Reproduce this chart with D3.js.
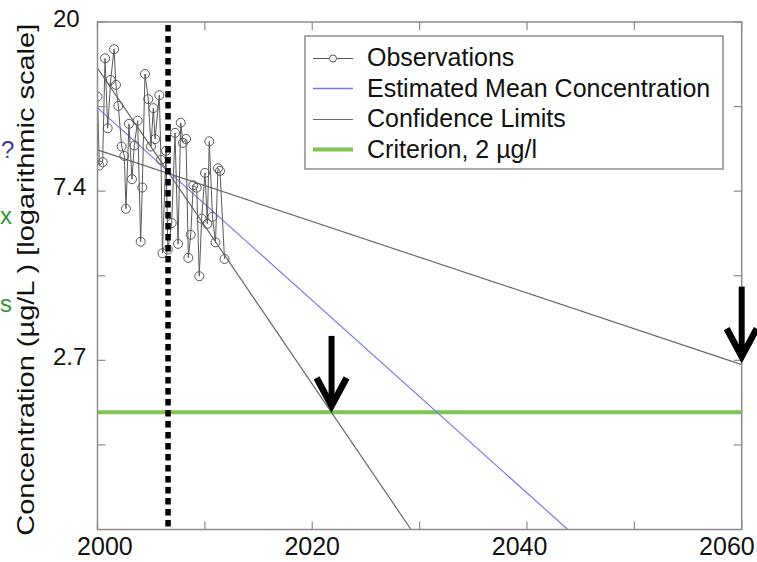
<!DOCTYPE html>
<html>
<head>
<meta charset="utf-8">
<script src="https://cdn.jsdelivr.net/npm/d3@7"></script>
<style>
  body { margin: 0; background: #fff; }
  text { font-family: "Liberation Sans", Arial, sans-serif; }
</style>
</head>
<body>
<div id="chart"></div>
<script>
// Observations (year, concentration in ug/L)
const obsYears = [2000.0, 2000.17, 2000.48, 2000.70, 2000.95, 2001.23, 2001.54, 2001.72, 2001.94,
  2002.25, 2002.50, 2002.65, 2002.93, 2003.21, 2003.43, 2003.74, 2004.02, 2004.17, 2004.42,
  2004.73, 2004.98, 2005.20, 2005.36, 2005.76, 2005.91, 2006.05, 2006.38, 2006.55, 2006.91,
  2007.22, 2007.50, 2007.75, 2007.96, 2008.24, 2008.46, 2008.68, 2008.92, 2009.24, 2009.48,
  2009.70, 2010.01, 2010.23, 2010.41, 2010.71, 2010.99, 2011.22, 2011.41, 2011.83];
const obsValues = [12.92, 8.60, 8.77, 16.21, 10.72, 14.26, 17.10, 13.85, 12.23,
  9.62, 9.10, 6.66, 11.00, 7.93, 9.68, 11.21, 5.48, 7.55, 14.78,
  12.73, 9.62, 12.07, 10.05, 13.03, 8.89, 5.12, 9.38, 5.23, 6.12,
  10.43, 5.41, 11.07, 9.83, 10.06, 4.98, 5.71, 7.65, 7.54, 4.47,
  6.28, 8.23, 6.09, 9.92, 6.35, 5.46, 8.46, 8.33, 4.95];

// trend line + confidence limits (end points)
const meanYears = [2000, 2043.8];
const meanValues = [12.09, 1.0];
const lowerLimitYears = [2000, 2029.2];
const lowerLimitValues = [15.3, 1.0];
const upperLimitYears = [2000, 2060];
const upperLimitValues = [9.43, 2.65];

const criterion = 2;
const splitYear = 2006.57;

// arrows marking where the limits reach the criterion
const arrowYears = [2021.8, 2060];
const arrowValues = [2.04, 2.73];

const xTicks = [2000, 2010, 2020, 2030, 2040, 2050, 2060];
const xTickLabels = [2000, 2020, 2040, 2060];
const yTicks = [0.5, 1, 1.5, 2, 2.5, 3].map(p => Math.exp(p));
const yTickLabels = ["2.7", "7.4", "20"];

const legendLabels = ["Observations", "Estimated Mean Concentration", "Confidence Limits", "Criterion, 2 \u00b5g/l"];

const W = 757, H = 562;
const plot = { left: 97.5, right: 741.7, top: 22, bottom: 529.5 };

const colors = {
  frame: "#8c8c8c",
  obs: "#5a5a5a",
  mean: "#7878f0",
  limits: "#6a6a6a",
  criterion: "#80c550",
  text: "#111"
};

const svg = d3.select("#chart").append("svg")
    .attr("width", W)
    .attr("height", H)
    .style("display", "block");

const x = d3.scaleLinear().domain([2000, 2060]).range([plot.left, plot.right]);
const y = d3.scaleLog().domain([1, Math.exp(3)]).range([plot.bottom, plot.top]);

svg.append("defs").append("clipPath").attr("id", "clip")
  .append("rect")
    .attr("x", plot.left).attr("y", plot.top)
    .attr("width", plot.right - plot.left).attr("height", plot.bottom - plot.top);

const g = svg.append("g").attr("clip-path", "url(#clip)");
const line = d3.line().x(d => x(d[0])).y(d => y(d[1]));

// criterion
g.append("line")
    .attr("x1", plot.left).attr("x2", plot.right)
    .attr("y1", y(criterion)).attr("y2", y(criterion))
    .attr("stroke", colors.criterion).attr("stroke-width", 4);

// confidence limits
g.append("path").datum(d3.zip(lowerLimitYears, lowerLimitValues))
    .attr("d", line).attr("fill", "none").attr("stroke", colors.limits).attr("stroke-width", 1.2);
g.append("path").datum(d3.zip(upperLimitYears, upperLimitValues))
    .attr("d", line).attr("fill", "none").attr("stroke", colors.limits).attr("stroke-width", 1.2);

// mean
g.append("path").datum(d3.zip(meanYears, meanValues))
    .attr("d", line).attr("fill", "none").attr("stroke", colors.mean).attr("stroke-width", 1.2);

// observations
const obs = d3.zip(obsYears, obsValues);
g.append("path").datum(obs)
    .attr("d", line).attr("fill", "none").attr("stroke", colors.obs).attr("stroke-width", 1);
g.selectAll(".obs")
    .data(obs)
  .enter().append("circle")
    .attr("class", "obs")
    .attr("cx", d => x(d[0]))
    .attr("cy", d => y(d[1]))
    .attr("r", 4.5)
    .attr("fill", "none")
    .attr("stroke", colors.obs)
    .attr("stroke-width", 1);

// dotted split line
svg.append("line")
    .attr("x1", x(splitYear)).attr("x2", x(splitYear))
    .attr("y1", plot.top + 3).attr("y2", plot.bottom - 3)
    .attr("stroke", "#000").attr("stroke-width", 5.5)
    .attr("stroke-dasharray", "6.5,4.5");

// frame
svg.append("rect")
    .attr("x", plot.left).attr("y", plot.top)
    .attr("width", plot.right - plot.left).attr("height", plot.bottom - plot.top)
    .attr("fill", "none").attr("stroke", colors.frame).attr("stroke-width", 1.5);

// inward ticks on all sides
const tickLen = 8;
const ticks = svg.append("g").attr("stroke", colors.frame).attr("stroke-width", 1.2);
xTicks.forEach(t => {
  ticks.append("line").attr("x1", x(t)).attr("x2", x(t)).attr("y1", plot.bottom).attr("y2", plot.bottom - tickLen);
  ticks.append("line").attr("x1", x(t)).attr("x2", x(t)).attr("y1", plot.top).attr("y2", plot.top + tickLen);
});
yTicks.forEach(t => {
  ticks.append("line").attr("y1", y(t)).attr("y2", y(t)).attr("x1", plot.left).attr("x2", plot.left + tickLen);
  ticks.append("line").attr("y1", y(t)).attr("y2", y(t)).attr("x1", plot.right).attr("x2", plot.right - tickLen);
});

// tick labels
svg.selectAll(".xlab")
    .data(xTickLabels)
  .enter().append("text")
    .attr("class", "xlab")
    .attr("x", d => x(d) - (d - 2020) * 0.37)
    .attr("y", plot.bottom + 25)
    .attr("text-anchor", "middle")
    .attr("font-size", 25)
    .attr("fill", colors.text)
    .text(d => d);

svg.selectAll(".ylab")
    .data(yTickLabels)
  .enter().append("text")
    .attr("class", "ylab")
    .attr("x", plot.left - 44.5)
    .attr("y", d => y(+d) + 4)
    .attr("text-anchor", "start")
    .attr("font-size", 24)
    .attr("fill", colors.text)
    .text(d => d);

// axis title
svg.append("text")
    .attr("transform", `translate(34,${(plot.top + plot.bottom) / 2 + 4}) rotate(-90)`)
    .attr("text-anchor", "middle")
    .attr("font-size", 24)
    .attr("textLength", 512)
    .attr("lengthAdjust", "spacingAndGlyphs")
    .attr("fill", colors.text)
    .text("Concentration (\u00b5g/L ) [logarithmic scale]");

// arrows
const arrows = svg.append("g");
d3.zip(arrowYears, arrowValues).forEach(([yr, v]) => {
  const ax = x(yr), ay = y(v);
  arrows.append("line")
      .attr("x1", ax).attr("x2", ax).attr("y1", ay - 73).attr("y2", ay - 5)
      .attr("stroke", "#000").attr("stroke-width", 6);
  arrows.append("path")
      .attr("d", `M${ax - 15},${ay - 31} L${ax},${ay - 3} L${ax + 15},${ay - 31}`)
      .attr("fill", "none").attr("stroke", "#000").attr("stroke-width", 6.5);
});

// legend
const lg = svg.append("g").attr("transform", "translate(305,36)");
lg.append("rect")
    .attr("width", 418).attr("height", 133)
    .attr("fill", "#fff").attr("stroke", colors.frame).attr("stroke-width", 1.5);
const rowY = i => 21.5 + i * 30.5;
const swatch = [
  { stroke: colors.obs, w: 1 },
  { stroke: colors.mean, w: 1.3 },
  { stroke: colors.limits, w: 1.2 },
  { stroke: colors.criterion, w: 4 }
];
legendLabels.forEach((lab, i) => {
  lg.append("line")
      .attr("x1", 8).attr("x2", 48).attr("y1", Math.round(rowY(i)) + 0.5).attr("y2", Math.round(rowY(i)) + 0.5)
      .attr("stroke", swatch[i].stroke).attr("stroke-width", swatch[i].w);
  if (i === 0) {
    lg.append("circle").attr("cx", 28).attr("cy", Math.round(rowY(i)) + 0.5).attr("r", 3.5)
        .attr("fill", "#fff").attr("stroke", colors.obs);
  }
  lg.append("text")
      .attr("x", 62).attr("y", rowY(i) + 8.5)
      .attr("font-size", 25)
      .attr("fill", colors.text)
      .text(lab);
});

// letters at the left edge of the original figure
const stray = [
  { t: "?", x: 1, y: 158, c: "#3c3ca0" },
  { t: "x", x: 0, y: 224, c: "#2e9a2e" },
  { t: "s", x: 0, y: 312, c: "#2e9a2e" }
];
stray.forEach(s => {
  svg.append("text").attr("x", s.x).attr("y", s.y).attr("font-size", 24)
      .attr("fill", s.c).text(s.t);
});
</script>
</body>
</html>
